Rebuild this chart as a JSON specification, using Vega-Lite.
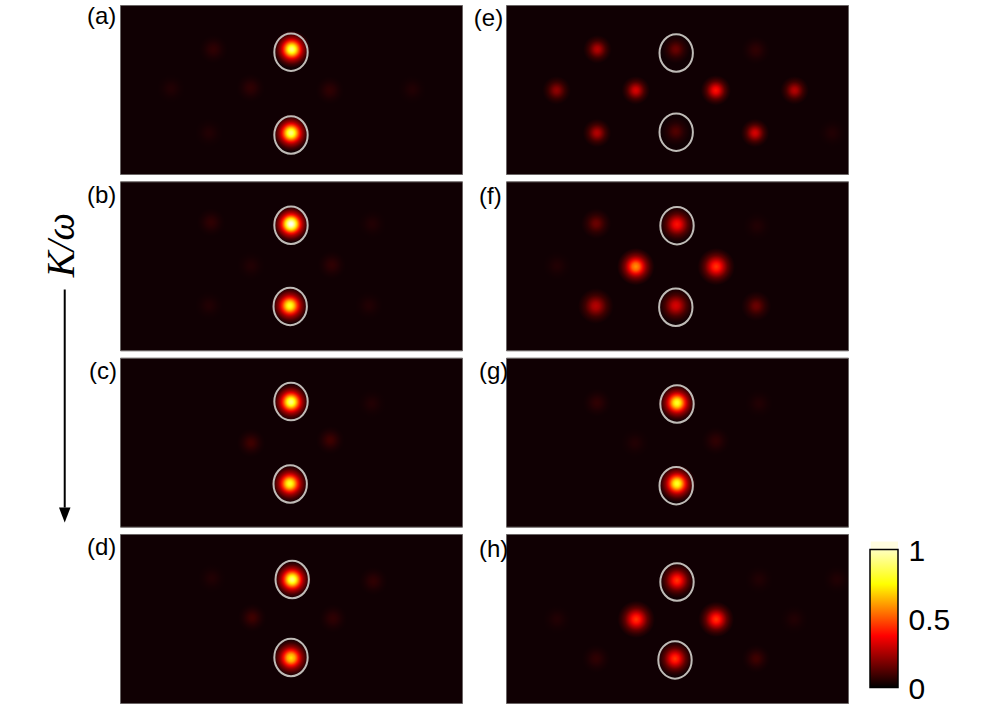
{
"$schema":"https://vega.github.io/schema/vega-lite/v6.json",
"padding":{"left":0,"top":4,"right":0,"bottom":0},
"background":"white",
"spacing":3,
"params":[
{"name":"g100","value":{"gradient":"radial","stops":[{"offset":0,"color":"#ffffff"},{"offset":0.1,"color":"#ffffd9"},{"offset":0.2,"color":"#ffff71"},{"offset":0.3,"color":"#ffe600"},{"offset":0.4,"color":"#ff7600"},{"offset":0.5,"color":"#ff0c00"},{"offset":0.6,"color":"#b60000"},{"offset":0.8,"color":"#4c0002"},{"offset":1,"color":"#100003"}]}},
{"name":"g88","value":{"gradient":"radial","stops":[{"offset":0,"color":"#ffff85"},{"offset":0.1,"color":"#ffff63"},{"offset":0.2,"color":"#ffff08"},{"offset":0.3,"color":"#ffab00"},{"offset":0.4,"color":"#ff4900"},{"offset":0.5,"color":"#ec0000"},{"offset":0.6,"color":"#a20000"},{"offset":0.8,"color":"#450002"},{"offset":1,"color":"#100003"}]}},
{"name":"g80","value":{"gradient":"radial","stops":[{"offset":0,"color":"#ffff33"},{"offset":0.1,"color":"#ffff14"},{"offset":0.2,"color":"#ffd500"},{"offset":0.3,"color":"#ff8500"},{"offset":0.4,"color":"#ff2c00"},{"offset":0.5,"color":"#d80000"},{"offset":0.6,"color":"#950000"},{"offset":0.8,"color":"#410002"},{"offset":1,"color":"#100003"}]}},
{"name":"g72","value":{"gradient":"radial","stops":[{"offset":0,"color":"#ffeb00"},{"offset":0.2,"color":"#ffa700"},{"offset":0.3,"color":"#ff5e00"},{"offset":0.4,"color":"#ff0e00"},{"offset":0.5,"color":"#c40000"},{"offset":0.6,"color":"#880000"},{"offset":0.8,"color":"#3c0002"},{"offset":1,"color":"#100003"}]}},
{"name":"g60","value":{"gradient":"radial","stops":[{"offset":0,"color":"#ff9900"},{"offset":0.2,"color":"#ff6000"},{"offset":0.3,"color":"#ff2400"},{"offset":0.4,"color":"#e20000"},{"offset":0.5,"color":"#a70000"},{"offset":0.6,"color":"#750000"},{"offset":0.8,"color":"#350002"},{"offset":1,"color":"#100003"}]}},
{"name":"g52","value":{"gradient":"radial","stops":[{"offset":0,"color":"#ff6300"},{"offset":0.2,"color":"#ff3200"},{"offset":0.3,"color":"#fc0000"},{"offset":0.4,"color":"#c70000"},{"offset":0.6,"color":"#680000"},{"offset":0.8,"color":"#310002"},{"offset":1,"color":"#100003"}]}},
{"name":"g46","value":{"gradient":"radial","stops":[{"offset":0,"color":"#ff3a00"},{"offset":0.2,"color":"#ff0e00"},{"offset":0.3,"color":"#e10000"},{"offset":0.4,"color":"#b20000"},{"offset":0.6,"color":"#5e0000"},{"offset":0.8,"color":"#2d0002"},{"offset":1,"color":"#100003"}]}},
{"name":"g40","value":{"gradient":"radial","stops":[{"offset":0,"color":"#ff1100"},{"offset":0.2,"color":"#eb0000"},{"offset":0.3,"color":"#c60000"},{"offset":0.4,"color":"#9d0000"},{"offset":0.6,"color":"#540000"},{"offset":0.8,"color":"#2a0002"},{"offset":1,"color":"#100003"}]}},
{"name":"g32","value":{"gradient":"radial","stops":[{"offset":0,"color":"#dc0000"},{"offset":0.2,"color":"#c00000"},{"offset":0.4,"color":"#820000"},{"offset":0.6,"color":"#470000"},{"offset":0.8,"color":"#250002"},{"offset":1,"color":"#100003"}]}},
{"name":"g26","value":{"gradient":"radial","stops":[{"offset":0,"color":"#b70000"},{"offset":0.2,"color":"#a00000"},{"offset":0.4,"color":"#6d0000"},{"offset":0.6,"color":"#3d0000"},{"offset":0.8,"color":"#220002"},{"offset":1,"color":"#100003"}]}},
{"name":"g20","value":{"gradient":"radial","stops":[{"offset":0,"color":"#910000"},{"offset":0.2,"color":"#7f0000"},{"offset":0.4,"color":"#580000"},{"offset":0.6,"color":"#340000"},{"offset":0.8,"color":"#1e0002"},{"offset":1,"color":"#100003"}]}},
{"name":"g14","value":{"gradient":"radial","stops":[{"offset":0,"color":"#6b0000"},{"offset":0.2,"color":"#5f0000"},{"offset":0.4,"color":"#430000"},{"offset":0.6,"color":"#2a0002"},{"offset":0.8,"color":"#1b0003"},{"offset":1,"color":"#100003"}]}},
{"name":"g10","value":{"gradient":"radial","stops":[{"offset":0,"color":"#520000"},{"offset":0.2,"color":"#490000"},{"offset":0.4,"color":"#360002"},{"offset":0.6,"color":"#230003"},{"offset":0.8,"color":"#190003"},{"offset":1,"color":"#100003"}]}},
{"name":"g07","value":{"gradient":"radial","stops":[{"offset":0,"color":"#3f0000"},{"offset":0.2,"color":"#390000"},{"offset":0.4,"color":"#2b0002"},{"offset":0.6,"color":"#1e0003"},{"offset":0.8,"color":"#150003"},{"offset":1,"color":"#100003"}]}},
{"name":"g045","value":{"gradient":"radial","stops":[{"offset":0,"color":"#2f0002"},{"offset":0.2,"color":"#2b0002"},{"offset":0.4,"color":"#230003"},{"offset":0.6,"color":"#1a0003"},{"offset":0.8,"color":"#140003"},{"offset":1,"color":"#100003"}]}},
{"name":"g025","value":{"gradient":"radial","stops":[{"offset":0,"color":"#220003"},{"offset":0.2,"color":"#1f0003"},{"offset":0.4,"color":"#1a0003"},{"offset":0.6,"color":"#150003"},{"offset":0.8,"color":"#120003"},{"offset":1,"color":"#100003"}]}}
],
"hconcat":[
{
"width":75,"height":698,
"view":{"stroke":null},
"data":{"values":[{"x":0.863,"y":0.4076,"y2":0.72,"tip":0.7307,"name":"K/ω","ny":0.344,"nx":0.827}]},
"layer":[
{"mark":{"type":"rule","stroke":"#000000","strokeWidth":2},
"encoding":{"x":{"field":"x","type":"quantitative","scale":{"domain":[0,1],"nice":false},"axis":null},"y":{"field":"y","type":"quantitative","scale":{"domain":[0,1],"reverse":true,"nice":false},"axis":null},"y2":{"field":"y2"}}},
{"mark":{"type":"point","filled":true,"opacity":1,"fill":"#000000","stroke":null,"size":132,"shape":"M-1,-1.3 L1,-1.3 L0,1.3 Z"},
"encoding":{"x":{"field":"x","type":"quantitative","axis":null},"y":{"field":"tip","type":"quantitative","axis":null}}},
{"mark":{"type":"text","angle":270,"font":"Liberation Serif","fontStyle":"italic","fontSize":39,"fill":"#000000","align":"center","baseline":"middle"},
"encoding":{"x":{"field":"nx","type":"quantitative","axis":null},"y":{"field":"ny","type":"quantitative","axis":null},"text":{"field":"name"}}}
]
},
{
"data":{"values":[
{"panel":"a","kind":"spot","x":0.02,"y":0.98,"peak":0.88,"w":1.05},{"panel":"a","kind":"spot","x":0,"y":-1.06,"peak":0.88,"w":1.05},{"panel":"a","kind":"spot","x":-1.01,"y":0.04,"peak":0.045,"w":0.8},{"panel":"a","kind":"spot","x":0.97,"y":-0.02,"peak":0.045,"w":0.8},{"panel":"a","kind":"spot","x":-3,"y":0.02,"peak":0.025,"w":0.8},{"panel":"a","kind":"spot","x":3.03,"y":0,"peak":0.025,"w":0.8},{"panel":"a","kind":"spot","x":-1.94,"y":0.98,"peak":0.045,"w":0.8},{"panel":"a","kind":"spot","x":-2.05,"y":-1.06,"peak":0.025,"w":0.8},
{"panel":"a","kind":"ring","x":0,"y":0.91},{"panel":"a","kind":"ring","x":0,"y":-1.11},{"panel":"a","kind":"label","x":-5.1,"y":1.77,"label":"(a)"},
{"panel":"b","kind":"spot","x":0,"y":1.02,"peak":1,"w":1.05},{"panel":"b","kind":"spot","x":-0.03,"y":-0.97,"peak":0.8,"w":1.05},{"panel":"b","kind":"spot","x":-2,"y":1.06,"peak":0.045,"w":0.8},{"panel":"b","kind":"spot","x":-1,"y":0,"peak":0.025,"w":0.8},{"panel":"b","kind":"spot","x":1.02,"y":0.02,"peak":0.045,"w":0.8},{"panel":"b","kind":"spot","x":2.03,"y":1.02,"peak":0.025,"w":0.8},{"panel":"b","kind":"spot","x":-2.05,"y":-0.97,"peak":0.025,"w":0.8},{"panel":"b","kind":"spot","x":1.95,"y":-0.97,"peak":0.025,"w":0.8},
{"panel":"b","kind":"ring","x":0,"y":0.99},{"panel":"b","kind":"ring","x":-0.02,"y":-0.99},{"panel":"b","kind":"label","x":-5.1,"y":1.7,"label":"(b)"},
{"panel":"c","kind":"spot","x":0,"y":0.98,"peak":0.88,"w":1.05},{"panel":"c","kind":"spot","x":-0.03,"y":-1.01,"peak":0.8,"w":1.05},{"panel":"c","kind":"spot","x":-1,"y":-0.02,"peak":0.07,"w":0.8},{"panel":"c","kind":"spot","x":0.98,"y":0.05,"peak":0.07,"w":0.8},{"panel":"c","kind":"spot","x":2.02,"y":0.94,"peak":0.025,"w":0.8},
{"panel":"c","kind":"ring","x":0,"y":0.99},{"panel":"c","kind":"ring","x":-0.02,"y":-1.02},{"panel":"c","kind":"label","x":-5.05,"y":1.72,"label":"(c)"},
{"panel":"d","kind":"spot","x":0.03,"y":0.95,"peak":0.88,"w":1.05},{"panel":"d","kind":"spot","x":0,"y":-0.96,"peak":0.72,"w":1.05},{"panel":"d","kind":"spot","x":-0.97,"y":0.02,"peak":0.07,"w":0.8},{"panel":"d","kind":"spot","x":1.05,"y":0,"peak":0.045,"w":0.8},{"panel":"d","kind":"spot","x":2.06,"y":0.91,"peak":0.045,"w":0.8},{"panel":"d","kind":"spot","x":-1.98,"y":0.98,"peak":0.025,"w":0.8},
{"panel":"d","kind":"ring","x":0.03,"y":0.95},{"panel":"d","kind":"ring","x":0,"y":-0.95},{"panel":"d","kind":"label","x":-5.1,"y":1.73,"label":"(d)"},
{"panel":"e","kind":"spot","x":-1.99,"y":0.98,"peak":0.26,"w":0.8},{"panel":"e","kind":"spot","x":-3.01,"y":-0.02,"peak":0.2,"w":0.8},{"panel":"e","kind":"spot","x":-1.03,"y":-0.02,"peak":0.32,"w":0.8},{"panel":"e","kind":"spot","x":0.97,"y":-0.02,"peak":0.4,"w":0.85},{"panel":"e","kind":"spot","x":2.94,"y":-0.02,"peak":0.26,"w":0.8},{"panel":"e","kind":"spot","x":-2,"y":-1.06,"peak":0.26,"w":0.8},{"panel":"e","kind":"spot","x":1.95,"y":-1.06,"peak":0.32,"w":0.8},{"panel":"e","kind":"spot","x":-0.03,"y":0.98,"peak":0.14,"w":0.8},{"panel":"e","kind":"spot","x":-0.03,"y":-1.02,"peak":0.1,"w":0.8},{"panel":"e","kind":"spot","x":1.97,"y":0.96,"peak":0.045,"w":0.8},{"panel":"e","kind":"spot","x":3.88,"y":-1.06,"peak":0.025,"w":0.8},
{"panel":"e","kind":"ring","x":-0.02,"y":0.89},{"panel":"e","kind":"ring","x":-0.02,"y":-1.04},{"panel":"e","kind":"label","x":-5.08,"y":1.71,"label":"(e)"},
{"panel":"f","kind":"spot","x":0,"y":1.01,"peak":0.4,"w":1},{"panel":"f","kind":"spot","x":-0.03,"y":-0.97,"peak":0.32,"w":1},{"panel":"f","kind":"spot","x":-1.03,"y":-0.02,"peak":0.6,"w":1.05},{"panel":"f","kind":"spot","x":0.98,"y":-0.02,"peak":0.46,"w":1.05},{"panel":"f","kind":"spot","x":-2.02,"y":1.03,"peak":0.14,"w":0.85},{"panel":"f","kind":"spot","x":-2.03,"y":-0.98,"peak":0.26,"w":1},{"panel":"f","kind":"spot","x":1.98,"y":-0.98,"peak":0.14,"w":0.85},{"panel":"f","kind":"spot","x":2,"y":0.97,"peak":0.025,"w":0.8},{"panel":"f","kind":"spot","x":-3,"y":0,"peak":0.025,"w":0.8},
{"panel":"f","kind":"ring","x":0,"y":0.98},{"panel":"f","kind":"ring","x":-0.03,"y":-1.01},{"panel":"f","kind":"label","x":-4.95,"y":1.69,"label":"(f)"},
{"panel":"g","kind":"spot","x":0,"y":0.96,"peak":0.8,"w":1.05},{"panel":"g","kind":"spot","x":0,"y":-1.01,"peak":0.8,"w":1.05},{"panel":"g","kind":"spot","x":-2,"y":0.96,"peak":0.045,"w":0.8},{"panel":"g","kind":"spot","x":2.05,"y":0.94,"peak":0.025,"w":0.8},{"panel":"g","kind":"spot","x":-1.05,"y":-0.02,"peak":0.025,"w":0.8},{"panel":"g","kind":"spot","x":0.97,"y":0.03,"peak":0.045,"w":0.8},
{"panel":"g","kind":"ring","x":0,"y":0.93},{"panel":"g","kind":"ring","x":-0.02,"y":-1.06},{"panel":"g","kind":"label","x":-4.95,"y":1.7,"label":"(g)"},
{"panel":"h","kind":"spot","x":0,"y":0.93,"peak":0.46,"w":1},{"panel":"h","kind":"spot","x":-0.05,"y":-0.98,"peak":0.46,"w":1},{"panel":"h","kind":"spot","x":-1.02,"y":-0.02,"peak":0.46,"w":1.05},{"panel":"h","kind":"spot","x":0.98,"y":-0.02,"peak":0.46,"w":1},{"panel":"h","kind":"spot","x":-2.02,"y":-0.98,"peak":0.045,"w":0.8},{"panel":"h","kind":"spot","x":1.98,"y":-0.98,"peak":0.07,"w":0.8},{"panel":"h","kind":"spot","x":-3,"y":-0.02,"peak":0.025,"w":0.8},{"panel":"h","kind":"spot","x":2.93,"y":-0.02,"peak":0.025,"w":0.8},{"panel":"h","kind":"spot","x":2.05,"y":0.95,"peak":0.025,"w":0.8},{"panel":"h","kind":"spot","x":4,"y":0.95,"peak":0.025,"w":0.8},
{"panel":"h","kind":"ring","x":0,"y":0.89},{"panel":"h","kind":"ring","x":-0.05,"y":-1.01},{"panel":"h","kind":"label","x":-4.95,"y":1.68,"label":"(h)"}
]},
"columns":2,
"bounds":"flush",
"spacing":{"row":7.33,"column":44},
"facet":{"field":"panel","type":"nominal","sort":["a","e","b","f","c","g","d","h"],"header":{"labels":false,"title":null,"labelPadding":0,"titlePadding":0,"labelFontSize":0,"labelColor":"transparent","labelExpr":"''"},"title":null},
"spec":{
"width":342,"height":169,
"view":{"fill":"#100003","stroke":"#6a6565","strokeWidth":1},
"encoding":{
"x":{"field":"x","type":"quantitative","scale":{"domain":[-4.275,4.275],"nice":false,"zero":false},"axis":null},
"y":{"field":"y","type":"quantitative","scale":{"domain":[-2.06,2.06],"nice":false,"zero":false},"axis":null}
},
"layer":[
{"transform":[{"filter":"datum.kind==='spot'"}],
"mark":{"type":"point","shape":"circle","filled":true,"opacity":1,"strokeWidth":0,"clip":true},
"encoding":{"size":{"field":"w","type":"quantitative","legend":null,"scale":{"type":"pow","exponent":2,"domain":[0,1.2],"range":[0,1810]}},"fill":{"field":"peak","type":"ordinal","legend":null,"scale":{"domain":[1,0.88,0.8,0.72,0.6,0.52,0.46,0.4,0.32,0.26,0.2,0.14,0.1,0.07,0.045,0.025],"range":[{"expr":"g100"},{"expr":"g88"},{"expr":"g80"},{"expr":"g72"},{"expr":"g60"},{"expr":"g52"},{"expr":"g46"},{"expr":"g40"},{"expr":"g32"},{"expr":"g26"},{"expr":"g20"},{"expr":"g14"},{"expr":"g10"},{"expr":"g07"},{"expr":"g045"},{"expr":"g025"}]}}}},
{"transform":[{"filter":"datum.kind==='ring'"}],
"mark":{"type":"point","filled":false,"opacity":1,"stroke":"#bfbbb7","strokeWidth":2,"size":1406,"shape":"M-0.89,0 A0.89,1 0 1,1 0.89,0 A0.89,1 0 1,1 -0.89,0 Z"}},
{"transform":[{"filter":"datum.kind==='label'"}],
"mark":{"type":"text","font":"Liberation Sans","fontSize":24,"fill":"#000000","align":"left","baseline":"middle"},
"encoding":{"text":{"field":"label"}}}
]
}
},
{
"width":46,"height":698,
"view":{"stroke":null},
"layer":[
{"data":{"values":[{"lo":1,"hi":1.058,"l":0.03,"r":1}]},
"mark":{"type":"rect","fill":"#fffde0","stroke":null},
"encoding":{"x":{"field":"l","type":"quantitative","scale":{"domain":[-0.643,1],"nice":false,"zero":false},"axis":null},"x2":{"field":"r"},"y":{"field":"lo","type":"quantitative","scale":{"domain":[-0.112,4.946],"nice":false,"zero":false},"axis":{"orient":"right","values":[0,0.5,1],"title":null,"domain":false,"ticks":false,"grid":false,"labelFontSize":30,"labelFont":"Liberation Sans","labelColor":"#000000","labelPadding":10,"labelOverlap":false,"labelBound":false,"labelFlush":false,"labelOffset":2,"format":"~g"}},"y2":{"field":"hi"}}},
{"data":{"values":[{"lo":0,"hi":1,"l":0,"r":1}]},
"mark":{"type":"rect","stroke":"#000000","strokeWidth":1.5,"fill":{"gradient":"linear","x1":0,"y1":1,"x2":0,"y2":0,"stops":[{"offset":0,"color":"#000000"},{"offset":0.375,"color":"#ff0000"},{"offset":0.75,"color":"#ffff00"},{"offset":1,"color":"#ffffc0"}]}},
"encoding":{"x":{"field":"l","type":"quantitative"},"x2":{"field":"r"},"y":{"field":"lo","type":"quantitative"},"y2":{"field":"hi"}}}
]
}
]
}
